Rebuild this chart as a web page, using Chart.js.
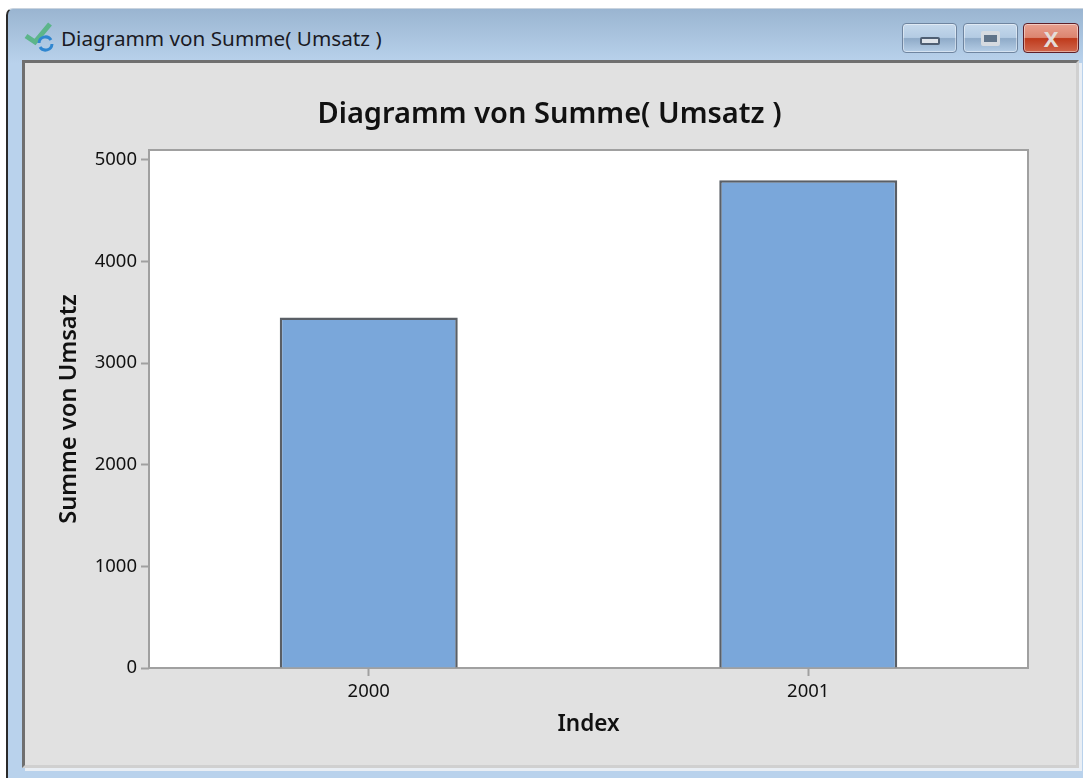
<!DOCTYPE html>
<html lang="de">
  <head>
    <meta charset="UTF-8" />
    <title>Diagramm von Summe( Umsatz )</title>
    <script src="https://cdn.jsdelivr.net/npm/chart.js"></script>
    <style>
      * {
        margin: 0;
        padding: 0;
        box-sizing: border-box;
      }
      body {
        width: 1083px;
        height: 778px;
        overflow: hidden;
        background: #ffffff;
        position: relative;
        font-family: "Noto Sans", sans-serif;
      }
      .window {
        position: absolute;
        left: 6px;
        top: 8px;
        width: 1077px;
        height: 770px;
        border-left: 2px solid #2a2a2a;
        border-top: 1px solid #c9d3de;
        border-top-left-radius: 7px;
        background: linear-gradient(180deg, #9ab5d1 0px, #b9d2ec 54px, #b9d2ec 100%);
      }
      .caption {
        position: absolute;
        left: 61px;
        top: 25px;
        font-size: 20.7px;
        line-height: 26px;
        color: #1a1a24;
      }
      .icon {
        position: absolute;
        left: 24px;
        top: 22px;
      }
      .content {
        position: absolute;
        left: 22px;
        top: 60px;
        width: 1057px;
        height: 708px;
        background: #e1e1e1;
        border-left: 3px solid #6f6f6f;
        border-top: 3px solid #6f6f6f;
        border-bottom: 3px solid #d0d0d0;
        border-right: 3px solid #d0d0d0;
        box-shadow: 3px 3px 0 #e9eef4;
      }
      .btn {
        position: absolute;
        top: 23px;
        height: 30px;
        border-radius: 4px;
        border: 1px solid #6f85a0;
        background: linear-gradient(180deg, #c6d9ec 0%, #b3cbe3 48%, #8fabc8 52%, #b5cde6 100%);
        box-shadow: inset 0 0 0 1px rgba(255, 255, 255, 0.45);
      }
      .btn.close {
        border-color: #5e1f28;
        background: linear-gradient(180deg, #e8a08f 0%, #dc8570 48%, #bf3a1c 52%, #d0664c 100%);
      }
      .btn i {
        position: absolute;
        display: block;
        border: 2px solid #4f5f73;
        border-radius: 2px;
        background: #dfe4ea;
      }
      #wrap {
        position: absolute;
        left: 16px;
        top: 0;
        width: 1067px;
        height: 778px;
      }
    </style>
  </head>
  <body>
    <div class="window"></div>
    <svg class="icon" width="34" height="30" viewBox="0 0 34 30">
      <path d="M2 14 L11 20 L26 2" fill="none" stroke="#5cb58a" stroke-width="5" />
      <path d="M15 21 A6.5 6.5 0 0 1 27 18 M28 22 A6.5 6.5 0 0 1 16 25" fill="none" stroke="#2f86d0" stroke-width="3" />
    </svg>
    <div class="caption">Diagramm von Summe( Umsatz )</div>
    <div class="btn" style="left: 902px; width: 55px"><i style="left: 17px; top: 13px; width: 20px; height: 8px"></i></div>
    <div class="btn" style="left: 963px; width: 55px"><i style="left: 17px; top: 7px; width: 19px; height: 15px; border-width: 4px 3px; background: #5f7389; border-color: #d5dae0"></i></div>
    <div class="btn close" style="left: 1023px; width: 56px"><span style="position: absolute; left: 0; right: 0; top: 1px; text-align: center; font: bold 22px/26px 'Noto Sans'; color: #e4dcd8">X</span></div>
    <div class="content"></div>
    <div id="wrap"><canvas id="chart" width="1067" height="778"></canvas></div>
    <script>
      const categories = ["2000", "2001"];
      const umsatz = [3450, 4800];
      const yTicks = [0, 1000, 2000, 3000, 4000, 5000];
      const axisMax = 5098;

      const frameColor = "#a0a0a0";
      const textColor = "#111111";

      const plotBox = {
        id: "plotBox",
        beforeDatasetsDraw(chart) {
          const { ctx, chartArea: a } = chart;
          ctx.save();
          ctx.fillStyle = "#ffffff";
          ctx.fillRect(a.left, a.top, a.width, a.height);
          ctx.strokeStyle = frameColor;
          ctx.lineWidth = 2;
          ctx.strokeRect(a.left, a.top, a.width, a.height);
          ctx.restore();
        },
      };

      new Chart(document.getElementById("chart"), {
        type: "bar",
        data: {
          labels: categories,
          datasets: [
            {
              data: umsatz,
              backgroundColor: "#7aa7da",
              borderColor: "#5a5f66",
              borderWidth: 2.5,
              barPercentage: 0.405,
              categoryPercentage: 1,
            },
          ],
        },
        plugins: [plotBox],
        options: {
          responsive: false,
          animation: false,
          devicePixelRatio: 1,
          // y axis box starts further right so the title centres where the original does
          layout: { padding: { left: 55, right: 55, top: 0, bottom: 40 } },
          plugins: {
            legend: { display: false },
            tooltip: { enabled: false },
            title: {
              display: true,
              text: "Diagramm von Summe( Umsatz )",
              color: textColor,
              font: { family: "Noto Sans", size: 29, weight: "600", lineHeight: 1.2 },
              padding: { top: 97, bottom: 18.2 },
            },
          },
          scales: {
            x: {
              afterFit(scale) {
                scale.height = 70;
              },
              grid: { offset: false, drawOnChartArea: false, tickLength: 8, tickColor: frameColor, tickWidth: 2 },
              border: { display: false },
              ticks: { color: textColor, font: { family: "Noto Sans", size: 18.5 }, padding: 5, maxRotation: 0 },
              title: {
                display: true,
                text: "Index",
                color: textColor,
                font: { family: "Noto Sans", size: 22.5, weight: "600" },
                padding: 0,
              },
            },
            y: {
              min: 0,
              max: axisMax,
              afterBuildTicks(scale) {
                scale.ticks = yTicks.map((v) => ({ value: v }));
              },
              afterFit(scale) {
                scale.width = 78;
              },
              grid: { drawOnChartArea: false, tickLength: 8, tickColor: frameColor, tickWidth: 2 },
              border: { display: false },
              ticks: {
                color: textColor,
                font: { family: "Noto Sans", size: 18.5 },
                padding: 4,
                callback: (v) => String(v),
              },
              title: {
                display: true,
                text: "Summe von Umsatz",
                color: textColor,
                font: { family: "Noto Sans", size: 23.7, weight: "600" },
                padding: -16,
              },
            },
          },
        },
      });
    </script>
  </body>
</html>
